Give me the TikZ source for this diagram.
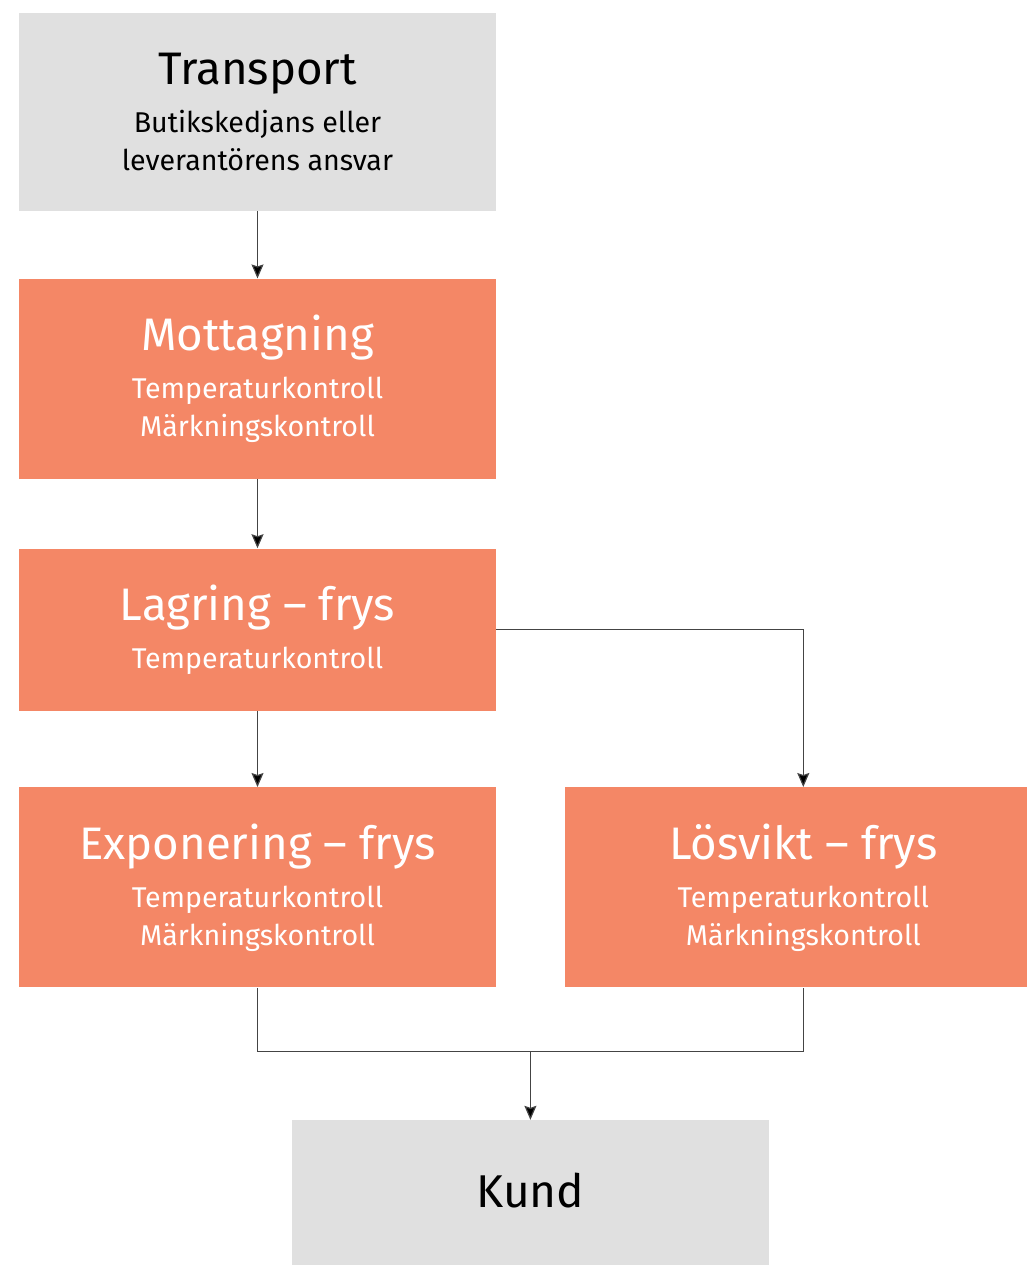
\documentclass[tikz,border=0pt]{standalone}
\usepackage{fontspec}
\setmainfont{Fira Sans}
\usetikzlibrary{positioning,arrows.meta,calc}
\definecolor{kontroll}{HTML}{F48766}
\definecolor{neutral}{HTML}{E0E0E0}
\definecolor{linje}{HTML}{444444}
\newcommand{\rubrik}[1]{{\fontsize{22.8}{26}\selectfont #1}}

\begin{document}
\begin{tikzpicture}[ruta/.style = {rectangle, inner sep=0pt, minimum width=238.5pt, align=center,
        font=\fontsize{14.3}{19}\selectfont},
    steg/.style = {ruta, fill=kontroll, text=white, minimum height=100pt},
    yttre/.style = {ruta, fill=neutral, text=black},
    pil/.style = {-{Stealth[length=7pt, width=6pt, inset=1pt, fill=black]}, draw=linje, line width=0.6pt}]
            \path[use as bounding box, clip] (0pt,0pt) rectangle (513.5pt,-632.5pt);
            \node[yttre, minimum height=99pt] (transport) at (128.75pt,-56pt) {\rubrik{Transport}\\[5pt]Butikskedjans eller\\leverantörens ansvar};
            \node[steg] (mottagning) [below=33.5pt of transport] {\rubrik{Mottagning}\\[5pt]Temperaturkontroll\\Märkningskontroll};
            \node[steg, minimum height=81pt] (lagring) [below=34.5pt of mottagning] {\rubrik{Lagring – frys}\\[5pt]Temperaturkontroll};
            \node[steg] (exponering) [below=38pt of lagring] {\rubrik{Exponering – frys}\\[5pt]Temperaturkontroll\\Märkningskontroll};
            \node[steg] (losvikt) [right=34pt of exponering] {\rubrik{Lösvikt – frys}\\[5pt]Temperaturkontroll\\Märkningskontroll};
            \coordinate (mitt) at ($(exponering.south)!0.5!(losvikt.south)$);
            \coordinate (samman) at ([yshift=-32pt]mitt);
            \node[yttre, minimum height=74pt] (kund) [below=66pt of mitt] {\raisebox{3.5pt}{\fontsize{23}{26}\selectfont Kund}};
            \draw[pil] (transport) -- (mottagning);
            \draw[pil] (mottagning) -- (lagring);
            \draw[pil] (lagring) -- (exponering);
            \draw[pil] (lagring.east) -| (losvikt.north);
            \draw[linje, line width=0.6pt] (exponering.south) |- (samman) -| (losvikt.south);
            \draw[pil] (samman) -- (kund);
        \end{tikzpicture}
\end{document}
